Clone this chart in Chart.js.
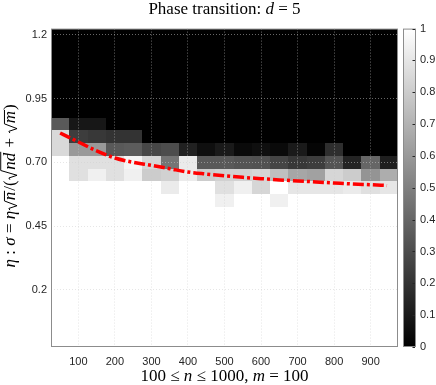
<!DOCTYPE html>
<html>
<head>
<meta charset="utf-8">
<script src="https://cdn.jsdelivr.net/npm/chart.js@4.4.1/dist/chart.umd.min.js"></script>
<style>
  html, body { margin: 0; padding: 0; background: #fff; }
  #wrap { width: 436px; height: 385px; }
</style>
</head>
<body>
<div id="wrap"><canvas id="c" width="436" height="385"></canvas></div>
<script>
// cell centres of the experiment grid
const nValues = [50, 100, 150, 200, 250, 300, 350, 400, 450, 500, 550, 600, 650, 700, 750, 800, 850, 900, 950];
const etaBlack = [1.2, 1.15, 1.1, 1.05, 1.0, 0.95, 0.9];          // all failed
const etaWhite = [0.5, 0.45, 0.4, 0.35, 0.3, 0.25, 0.2, 0.15, 0.1, 0.05, 0]; // all succeeded

// success rate in the transition band, one array per eta row
const eta085 = [0.35, 0.09, 0.09, 0, 0, 0, 0, 0, 0, 0, 0, 0, 0, 0, 0, 0, 0, 0, 0];
const eta080 = [0.85, 0.24, 0.22, 0.2, 0.2, 0, 0, 0, 0, 0, 0, 0, 0, 0, 0, 0, 0, 0, 0];
const eta075 = [0.85, 0.6, 0.6, 0.35, 0.36, 0.28, 0.3, 0.13, 0.06, 0.1, 0.04, 0.06, 0.04, 0.1, 0.02, 0.18, 0, 0, 0];
const eta070 = [1, 0.88, 0.88, 0.88, 0.96, 0.84, 0.46, 0.92, 0.35, 0.35, 0.33, 0.32, 0.27, 0.22, 0.24, 0.33, 0.14, 0.4, 0.12];
const eta065 = [1, 0.88, 0.94, 0.88, 0.94, 0.8, 0.82, 0.92, 0.8, 0.82, 0.82, 0.84, 0.75, 0.65, 0.63, 0.84, 0.8, 0.58, 0.68];
const eta060 = [1, 1, 1, 1, 1, 1, 0.92, 1, 1, 0.88, 0.94, 0.84, 1, 0.9, 0.9, 0.9, 0.92, 0.88, 0.9];
const eta055 = [1, 1, 1, 1, 1, 1, 1, 1, 1, 0.94, 1, 1, 0.94, 1, 1, 1, 1, 1, 1];
const bandEta = [0.85, 0.8, 0.75, 0.7, 0.65, 0.6, 0.55];
const bandRows = [eta085, eta080, eta075, eta070, eta065, eta060, eta055];

// predicted transition curve (red dash-dot)
const curveN = [50, 100, 150, 200, 250, 300, 350, 400, 450, 500, 550, 600, 650, 700, 750, 800, 850, 900, 945];
const curveEta = [0.815, 0.78, 0.745, 0.717, 0.7, 0.688, 0.675, 0.662, 0.654, 0.647, 0.641, 0.636, 0.631, 0.627, 0.623, 0.619, 0.615, 0.612, 0.609];

const xTicks = [100, 200, 300, 400, 500, 600, 700, 800, 900];
const yTicks = [0.2, 0.45, 0.7, 0.95, 1.2];
const yTickLabels = ['0.2', '0.45', '0.70', '0.95', '1.2'];
const cbarTicks = [0, 0.1, 0.2, 0.3, 0.4, 0.5, 0.6, 0.7, 0.8, 0.9, 1];

const serif = '"Liberation Serif", "DejaVu Serif", serif';
const sans = '"Liberation Sans", Arial, sans-serif';
const tickColor = '#262626';

function grey(v) {
  const g = Math.round(v * 255);
  return `rgb(${g},${g},${g})`;
}

// --- small helpers for the LaTeX-like labels ---
function fontFor(p, size) {
  return (p.i ? 'italic ' : '') + size + 'px ' + serif;
}
function partWidth(ctx, p, size) {
  if (p.sqrt) {
    return size * 0.62 + p.sqrt.reduce((w, q) => w + partWidth(ctx, q, size), 0) + size * 0.06;
  }
  ctx.font = fontFor(p, size);
  return ctx.measureText(p.t).width;
}
function drawParts(ctx, parts, x, y, size) {
  for (const p of parts) {
    const w = partWidth(ctx, p, size);
    if (p.sqrt) {
      const top = y - size * (p.h || 0.72);
      ctx.lineWidth = 1;
      ctx.strokeStyle = '#000';
      ctx.beginPath();
      ctx.moveTo(x + size * 0.04, y - size * 0.3);
      ctx.lineTo(x + size * 0.14, y - size * 0.36);
      ctx.lineTo(x + size * 0.3, y + size * 0.12);
      ctx.lineTo(x + size * 0.58, top);
      ctx.lineTo(x + w, top);
      ctx.stroke();
      drawParts(ctx, p.sqrt, x + size * 0.62, y, size);
    } else {
      ctx.font = fontFor(p, size);
      ctx.fillText(p.t, x, y);
    }
    x += w;
  }
}
function drawCentered(ctx, parts, cx, y, size) {
  const w = parts.reduce((s, p) => s + partWidth(ctx, p, size), 0);
  ctx.textAlign = 'left';
  ctx.textBaseline = 'alphabetic';
  ctx.fillStyle = '#000';
  drawParts(ctx, parts, cx - w / 2, y, size);
}

const titleParts = [{t: 'Phase transition: '}, {t: 'd', i: true}, {t: ' = 5'}];
const xLabelParts = [{t: '100 ≤ '}, {t: 'n', i: true}, {t: ' ≤ 1000, '}, {t: 'm', i: true}, {t: ' = 100'}];
const yLabelParts = [
  {t: 'η', i: true}, {t: ' : '}, {t: 'σ', i: true}, {t: ' = '}, {t: 'η', i: true},
  {sqrt: [{t: 'n', i: true}], h: 0.62}, {t: '/('},
  {sqrt: [{t: 'nd', i: true}], h: 0.84}, {t: ' + '},
  {sqrt: [{t: 'm', i: true}], h: 0.62}, {t: ')'}
];

// heatmap drawn under the grid, through the chart scales
const heatmap = {
  id: 'heatmap',
  beforeDraw(chart) {
    const {ctx, scales: {x, y}} = chart;
    const half = 25, halfEta = 0.025;
    const cell = (n, eta, v) => {
      const x0 = Math.round(x.getPixelForValue(n - half));
      const x1 = Math.round(x.getPixelForValue(n + half));
      const y0 = Math.round(y.getPixelForValue(eta + halfEta));
      const y1 = Math.round(y.getPixelForValue(eta - halfEta));
      ctx.fillStyle = grey(v);
      ctx.fillRect(x0, y0, x1 - x0, y1 - y0);
    };
    ctx.save();
    etaBlack.forEach(eta => nValues.forEach(n => cell(n, eta, 0)));
    etaWhite.forEach(eta => nValues.forEach(n => cell(n, eta, 1)));
    bandEta.forEach((eta, r) => nValues.forEach((n, c) => cell(n, eta, bandRows[r][c])));
    ctx.restore();
  },
  afterDraw(chart) {
    const {ctx, chartArea: a, scales: {cb}} = chart;
    ctx.save();
    // axes box
    ctx.strokeStyle = '#8c8c8c';
    ctx.lineWidth = 1;
    ctx.strokeRect(a.left + 0.5, a.top + 0.5, a.right - a.left - 1, a.bottom - a.top - 1);

    // colorbar
    const bx = cb.left + 5, bw = 13;
    const top = cb.getPixelForValue(1), bot = cb.getPixelForValue(0);
    const g = ctx.createLinearGradient(0, bot, 0, top);
    g.addColorStop(0, '#000');
    g.addColorStop(1, '#fff');
    ctx.fillStyle = g;
    ctx.fillRect(bx, top, bw, bot - top);
    ctx.strokeStyle = '#8c8c8c';
    ctx.strokeRect(bx + 0.5, top + 0.5, bw - 1, bot - top - 1);
    ctx.strokeStyle = tickColor;
    cbarTicks.forEach(v => {
      const py = Math.round(cb.getPixelForValue(v)) + 0.5;
      ctx.beginPath();
      ctx.moveTo(bx + bw - 1, py);
      ctx.lineTo(bx + bw - 3.5, py);
      ctx.stroke();
    });

    // title and axis labels
    drawCentered(ctx, titleParts, (a.left + a.right) / 2, 14, 17);
    drawCentered(ctx, xLabelParts, (a.left + a.right) / 2, 381, 17);
    ctx.translate(15, (a.top + a.bottom) / 2 - 2);
    ctx.rotate(-Math.PI / 2);
    drawCentered(ctx, yLabelParts, 0, 0, 17);
    ctx.restore();
  }
};

const gridColor = 'rgba(205,205,205,0.5)';

new Chart(document.getElementById('c'), {
  type: 'line',
  data: {
    datasets: [{
      data: curveN.map((n, i) => ({x: n, y: curveEta[i]})),
      borderColor: '#ff0000',
      borderWidth: 3.5,
      borderDash: [11, 3, 3, 3],
      pointRadius: 0,
      fill: false,
      cubicInterpolationMode: 'monotone'
    }]
  },
  options: {
    responsive: false,
    animation: false,
    events: [],
    layout: {padding: {top: 19.5, left: 0, right: 0, bottom: 0}},
    plugins: {legend: {display: false}, tooltip: {enabled: false}, title: {display: false}},
    scales: {
      x: {
        type: 'linear', min: 25, max: 975,
        afterBuildTicks: s => { s.ticks = xTicks.map(v => ({value: v})); },
        afterFit: s => { s.height = 38; },
        ticks: {color: tickColor, font: {family: sans, size: 11}, padding: 8, maxRotation: 0, autoSkip: false},
        grid: {color: gridColor, drawTicks: false},
        border: {display: false, dash: [1, 2]}
      },
      y: {
        type: 'linear', min: -0.025, max: 1.225,
        afterBuildTicks: s => { s.ticks = yTicks.map(v => ({value: v})); },
        afterFit: s => { s.width = 51; },
        ticks: {
          color: tickColor, font: {family: sans, size: 11}, padding: 4,
          callback: v => yTickLabels[yTicks.indexOf(v)]
        },
        grid: {color: gridColor, drawTicks: false},
        border: {display: false, dash: [1, 2]}
      },
      cb: {
        type: 'linear', position: 'right', min: 0, max: 1,
        afterBuildTicks: s => { s.ticks = cbarTicks.map(v => ({value: v})); },
        afterFit: s => { s.width = 38; },
        ticks: {color: tickColor, font: {family: sans, size: 11}, padding: 22, callback: v => String(v)},
        grid: {display: false, drawTicks: false},
        border: {display: false}
      }
    }
  },
  plugins: [heatmap]
});
</script>
</body>
</html>
